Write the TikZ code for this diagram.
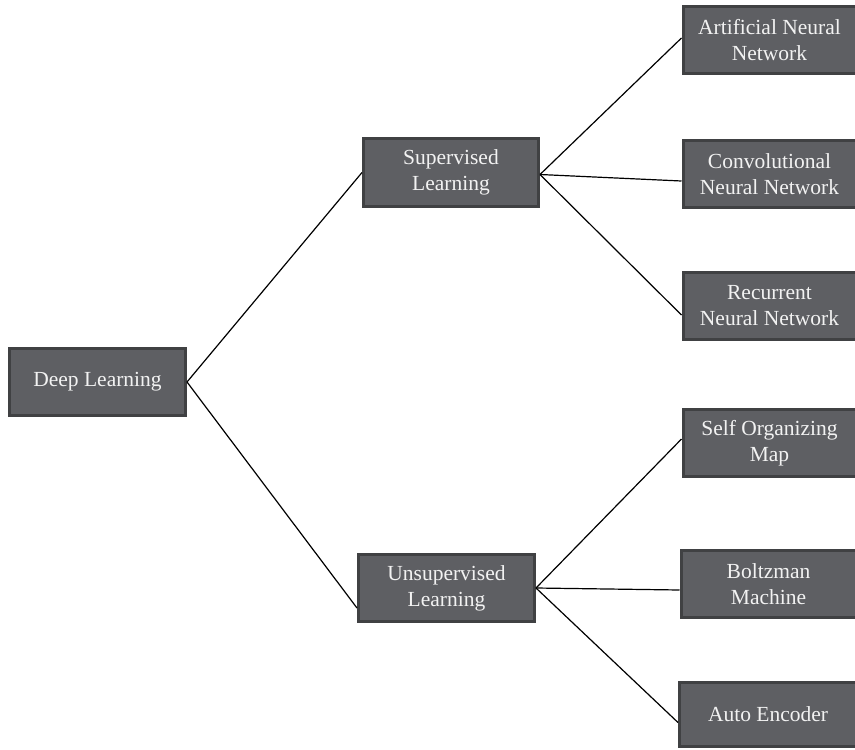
\documentclass[tikz,border=0pt]{standalone}
\usepackage{fontspec}
\setmainfont{Liberation Serif}
\begin{document}
\begin{tikzpicture}[x=1pt,y=-1pt,
  box/.style={draw=boxedge, fill=boxfill, line width=3pt, rectangle,
    inner sep=0pt, align=center, text=boxtext,
    font=\fontsize{21.5}{26}\selectfont},
  link/.style={draw=black, line width=1.2pt}]
\definecolor{boxfill}{HTML}{5E5F63}
\definecolor{boxedge}{HTML}{404143}
\definecolor{boxtext}{HTML}{F2F2F2}
\useasboundingbox (0,0) rectangle (855,750);

% root
\node[box, minimum width=176pt, minimum height=67pt] (dl) at (97.5,382) {Deep Learning};

% second level
\node[box, minimum width=175pt, minimum height=68pt] (sup) at (451,172.5) {Supervised\\Learning};
\node[box, minimum width=176pt, minimum height=67pt] (uns) at (446.5,588) {Unsupervised\\Learning};

% leaves
\node[box, minimum width=173pt, minimum height=67pt] (ann) at (769.5,40) {Artificial Neural\\Network};
\node[box, minimum width=173pt, minimum height=67pt] (cnn) at (769.5,174) {Convolutional\\Neural Network};
\node[box, minimum width=173pt, minimum height=67pt] (rnn) at (769.5,306) {Recurrent\\Neural Network};
\node[box, minimum width=173pt, minimum height=67pt] (som) at (769.5,443) {Self Organizing\\Map};
\node[box, minimum width=175pt, minimum height=67pt] (bol) at (768.5,584) {Boltzman\\Machine};
\node[box, minimum width=177pt, minimum height=64pt] (ae) at (768,714.5) {Auto Encoder};

% connectors
\draw[link] (dl.east) -- (sup.west);
\draw[link] (dl.east) -- ([yshift=-20pt]uns.west);

\draw[link] ([yshift=-2pt]sup.east) -- ([yshift=2pt]ann.west);
\draw[link] ([yshift=-2pt]sup.east) -- ([yshift=-7pt]cnn.west);
\draw[link] ([yshift=-2pt]sup.east) -- ([yshift=-9pt]rnn.west);

\draw[link] (uns.east) -- ([yshift=4pt]som.west);
\draw[link] (uns.east) -- ([yshift=-6pt]bol.west);
\draw[link] (uns.east) -- ([yshift=-8pt]ae.west);
\end{tikzpicture}
\end{document}
